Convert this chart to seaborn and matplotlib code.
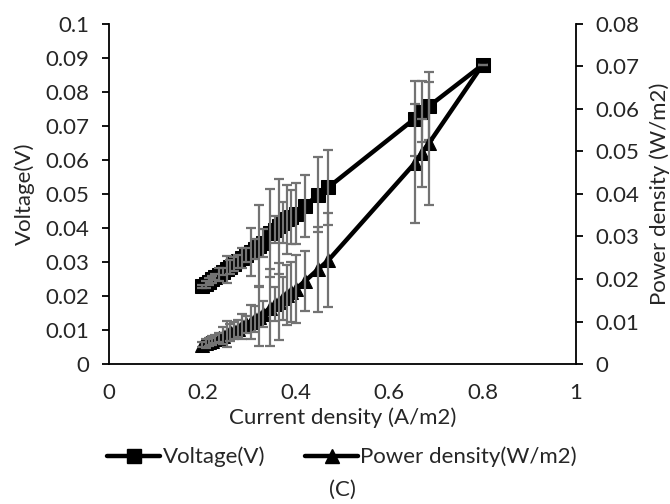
import matplotlib
matplotlib.use("Agg")
import matplotlib.pyplot as plt
from matplotlib.lines import Line2D
import seaborn as sns
import pandas as pd

# ---- data ----
current = [0.200, 0.207, 0.214, 0.221, 0.228, 0.236, 0.244, 0.252, 0.260, 0.268,
           0.276, 0.285, 0.294, 0.303, 0.312, 0.321, 0.330, 0.345, 0.355, 0.363,
           0.372, 0.381, 0.390, 0.400, 0.420, 0.448, 0.470, 0.655, 0.670, 0.685, 0.800]
voltage = [0.0228, 0.0235, 0.0242, 0.0249, 0.0256, 0.0263, 0.0271, 0.0279, 0.0286, 0.0294,
           0.0302, 0.0311, 0.0320, 0.0330, 0.0339, 0.0348, 0.0356, 0.0385, 0.0395, 0.0405,
           0.0415, 0.0425, 0.0433, 0.0442, 0.0465, 0.0498, 0.0520, 0.0722, 0.0742, 0.0758, 0.0880]
power = [0.00456, 0.00486, 0.00518, 0.00550, 0.00584, 0.00621, 0.00661, 0.00703, 0.00744, 0.00788,
         0.00834, 0.00886, 0.00941, 0.01000, 0.01058, 0.01117, 0.01175, 0.01328, 0.01402, 0.01470,
         0.01544, 0.01619, 0.01689, 0.01768, 0.01953, 0.02231, 0.02444, 0.04729, 0.04971, 0.05192, 0.07040]
voltage_err = [0.0005, 0.001, 0.001, 0.001, 0.001, 0.002, 0.001, 0.004, 0.002, 0.002,
               0.002, 0.003, 0.002, 0.007, 0.003, 0.012, 0.004, 0.013, 0.004, 0.014,
               0.006, 0.010, 0.008, 0.009, 0.009, 0.011, 0.011, 0.011, 0.009, 0.010, 0.0]
power_err = [0.0005, 0.001, 0.001, 0.001, 0.001, 0.001, 0.002, 0.003, 0.002, 0.002,
             0.002, 0.003, 0.002, 0.004, 0.003, 0.007, 0.003, 0.009, 0.004, 0.009,
             0.005, 0.007, 0.007, 0.008, 0.007, 0.010, 0.011, 0.0140, 0.008, 0.0145, 0.0]

x_ticks = [0, 0.2, 0.4, 0.6, 0.8, 1]
x_tick_labels = ["0", "0.2", "0.4", "0.6", "0.8", "1"]
v_ticks = [0, 0.01, 0.02, 0.03, 0.04, 0.05, 0.06, 0.07, 0.08, 0.09, 0.1]
v_tick_labels = ["0", "0.01", "0.02", "0.03", "0.04", "0.05", "0.06", "0.07", "0.08", "0.09", "0.1"]
p_ticks = [0, 0.01, 0.02, 0.03, 0.04, 0.05, 0.06, 0.07, 0.08]
p_tick_labels = ["0", "0.01", "0.02", "0.03", "0.04", "0.05", "0.06", "0.07", "0.08"]

df = pd.DataFrame({"current": current, "voltage": voltage, "power": power,
                   "verr": voltage_err, "perr": power_err})

sns.set_style("white")
plt.rcParams["font.family"] = ["Lato", "DejaVu Sans"]
FS = 16
TXT = "#262626"

fig = plt.figure(figsize=(6.7, 5.04), dpi=100)
ax = fig.add_axes([109/670, 1-364/504, (576-109)/670, (364-24)/504])
ax2 = ax.twinx()

ERR_COLOR = "#737373"

sns.lineplot(data=df, x="current", y="voltage", ax=ax, sort=False, color="black",
             linewidth=3.2, marker="s", markersize=9.5, markeredgecolor="black",
             markerfacecolor="black", zorder=3, legend=False)
ax.errorbar(df["current"], df["voltage"], yerr=df["verr"], fmt="none", ecolor=ERR_COLOR,
            elinewidth=1.6, capsize=3.8, capthick=1.6, zorder=4)

sns.lineplot(data=df, x="current", y="power", ax=ax2, sort=False, color="black",
             linewidth=3.2, marker="^", markersize=10.5, markeredgecolor="black",
             markerfacecolor="black", zorder=3, legend=False)
ax2.errorbar(df["current"], df["power"], yerr=df["perr"], fmt="none", ecolor=ERR_COLOR,
             elinewidth=1.6, capsize=3.8, capthick=1.6, zorder=4)

ax.set_xlim(0, 1)
ax.set_ylim(0, 0.1)
ax2.set_ylim(0, 0.08)
ax.set_xticks(x_ticks)
ax.set_xticklabels(x_tick_labels)
ax.set_yticks(v_ticks)
ax.set_yticklabels(v_tick_labels)
ax2.set_yticks(p_ticks)
ax2.set_yticklabels(p_tick_labels)

for a in (ax, ax2):
    a.spines["top"].set_visible(False)
    for s in ("left", "right", "bottom"):
        a.spines[s].set_color("black")
        a.spines[s].set_linewidth(1.3)
    a.tick_params(direction="out", length=5, width=1.3, color="black",
                  labelsize=FS, labelcolor=TXT)
ax.tick_params(axis="x", pad=9)
ax.tick_params(axis="y", pad=9)
ax2.tick_params(axis="y", pad=9)
ax.spines["right"].set_visible(False)
ax2.spines["left"].set_visible(False)
ax2.spines["bottom"].set_visible(False)

ax.set_xlabel("Current density (A/m2)", fontsize=FS, color=TXT)
ax.xaxis.set_label_coords(0.5, (364-418)/340, transform=ax.transAxes)
ax.set_ylabel("Voltage(V)", fontsize=FS, color=TXT)
ax.yaxis.set_label_coords((25-109)/467, 0.5)
ax2.set_ylabel("Power density (W/m2)", fontsize=FS, color=TXT)
ax2.yaxis.set_label_coords((660-109)/467, 0.5)
ax.xaxis.label.set_va("center")
ax.yaxis.label.set_va("center")
ax2.yaxis.label.set_va("center")

handles = [Line2D([], [], color="black", lw=3.2, marker="s", markersize=9.5),
           Line2D([], [], color="black", lw=3.2, marker="^", markersize=10.5)]
fig.legend(handles, ["Voltage(V)", "Power density(W/m2)"], loc="center",
           bbox_to_anchor=(342/670, 1-457/504), ncol=2, frameon=False,
           fontsize=FS, handlelength=2.4, handletextpad=0.1, columnspacing=1.8,
           labelcolor=TXT)

fig.text(342/670, 1-490/504, "(C)", ha="center", va="center", fontsize=FS, color=TXT)

fig.savefig("out.png", dpi=100)
